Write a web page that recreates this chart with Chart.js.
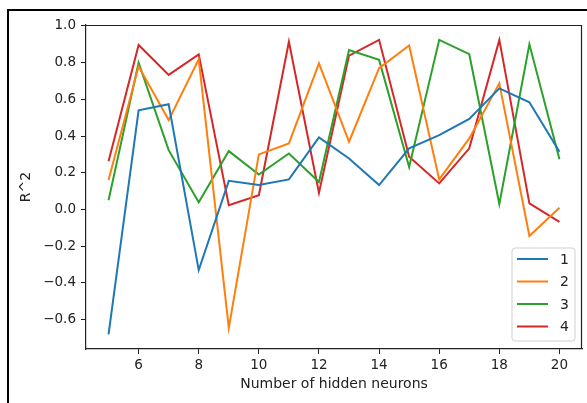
<!DOCTYPE html>
<html>
<head>
<meta charset="utf-8">
<script src="https://cdn.jsdelivr.net/npm/chart.js@4/dist/chart.umd.min.js"></script>
<style>
  html, body { margin: 0; padding: 0; background: #fff; }
  canvas { display: block; }
</style>
</head>
<body>
<canvas id="r2chart" width="587" height="403"></canvas>
<script>
// hidden neuron counts on the x axis
const neurons = [5, 6, 7, 8, 9, 10, 11, 12, 13, 14, 15, 16, 17, 18, 19, 20];

// R^2 score per run
const run1 = [-0.68, 0.54, 0.573, -0.33, 0.156, 0.133, 0.164, 0.393, 0.278, 0.133, 0.333, 0.405, 0.493, 0.66, 0.584, 0.314];
const run2 = [0.16, 0.78, 0.487, 0.818, -0.645, 0.30, 0.36, 0.796, 0.369, 0.77, 0.893, 0.164, 0.387, 0.687, -0.144, 0.009];
const run3 = [0.05, 0.80, 0.323, 0.04, 0.318, 0.19, 0.305, 0.15, 0.869, 0.815, 0.232, 0.924, 0.846, 0.03, 0.90, 0.274];
const run4 = [0.263, 0.896, 0.733, 0.845, 0.023, 0.078, 0.914, 0.09, 0.838, 0.924, 0.287, 0.142, 0.333, 0.924, 0.033, -0.068];

const runLabels = ["1", "2", "3", "4"];
const runColors = ["#1f77b4", "#ff7f0e", "#2ca02c", "#d62728"];

const xTicks = [6, 8, 10, 12, 14, 16, 18, 20];
const yTicks = [-0.6, -0.4, -0.2, 0.0, 0.2, 0.4, 0.6, 0.8, 1.0];

const ink = "#222";
const tickFont = { family: "DejaVu Sans", size: 13.5 };
const titleFont = { family: "DejaVu Sans", size: 14 };

const toPoints = (ys) => ys.map((y, i) => ({ x: neurons[i], y: y }));

// box around the axes plus the outer figure frame
const framePlugin = {
    id: "frame",
    afterDraw(chart) {
        const { ctx, chartArea: a } = chart;
        const top = Math.round(a.top) + 0.5;
        const right = Math.round(a.right) - 0.5;
        ctx.save();
        ctx.strokeStyle = ink;
        ctx.lineWidth = 1.2;
        ctx.beginPath();
        ctx.moveTo(a.left, top);
        ctx.lineTo(right, top);
        ctx.lineTo(right, a.bottom);
        ctx.stroke();

        ctx.strokeStyle = "#000";
        ctx.lineWidth = 2;
        ctx.beginPath();
        ctx.moveTo(8, chart.height);
        ctx.lineTo(8, 10);
        ctx.lineTo(chart.width, 10);
        ctx.stroke();
        ctx.restore();
    },
};

// legend box in the lower right corner of the plot
const innerLegend = {
    id: "innerLegend",
    afterDraw(chart) {
        const { ctx, chartArea: a } = chart;
        const sets = chart.data.datasets;
        const w = 63, rowH = 22.5;
        const h = sets.length * rowH + 3;
        const x = a.right - 7 - w;
        const y = a.bottom - 8 - h;
        ctx.save();
        ctx.beginPath();
        ctx.roundRect(x, y, w, h, 3);
        ctx.fillStyle = "rgba(255,255,255,0.8)";
        ctx.fill();
        ctx.strokeStyle = "#d0d0d0";
        ctx.lineWidth = 1;
        ctx.stroke();
        ctx.font = "14px 'DejaVu Sans'";
        ctx.textBaseline = "middle";
        sets.forEach((ds, i) => {
            const cy = y + 11 + i * rowH;
            ctx.strokeStyle = ds.borderColor;
            ctx.lineWidth = 2;
            ctx.beginPath();
            ctx.moveTo(x + 5, cy);
            ctx.lineTo(x + 36, cy);
            ctx.stroke();
            ctx.fillStyle = ink;
            ctx.fillText(ds.label, x + 48, cy + 1);
        });
        ctx.restore();
    },
};

const chartConfig = {
    type: "line",
    data: {
        datasets: [run1, run2, run3, run4].map((ys, i) => ({
            label: runLabels[i],
            data: toPoints(ys),
            borderColor: runColors[i],
            backgroundColor: runColors[i],
            borderWidth: 2,
            pointRadius: 0,
            tension: 0,
            fill: false,
        })),
    },
    options: {
        responsive: false,
        animation: false,
        devicePixelRatio: 1,
        layout: { padding: { top: 25, right: 5, left: 0, bottom: 0 } },
        plugins: {
            legend: { display: false },
            tooltip: { enabled: false },
        },
        scales: {
            x: {
                type: "linear",
                min: 4.25,
                max: 20.75,
                afterBuildTicks: (s) => { s.ticks = xTicks.map((v) => ({ value: v })); },
                afterFit: (s) => { s.height = 54; },
                ticks: { color: ink, font: tickFont, padding: 3, maxRotation: 0 },
                grid: { drawOnChartArea: false, drawTicks: true, tickLength: 5, color: ink },
                border: { display: true, color: ink, width: 1.2 },
                title: {
                    display: true,
                    text: "Number of hidden neurons",
                    color: ink,
                    font: titleFont,
                    padding: { top: 0, bottom: 10 },
                },
            },
            y: {
                type: "linear",
                min: -0.76,
                max: 1.005,
                afterBuildTicks: (s) => { s.ticks = yTicks.map((v) => ({ value: v })); },
                afterFit: (s) => { s.width = 86; },
                ticks: {
                    color: ink,
                    font: tickFont,
                    padding: 5,
                    callback: (v) => (v < -1e-9 ? "\u2212" : "") + Math.abs(v).toFixed(1),
                },
                grid: { drawOnChartArea: false, drawTicks: true, tickLength: 5, color: ink },
                border: { display: true, color: ink, width: 1.2 },
                title: {
                    display: true,
                    text: "R^2",
                    color: ink,
                    font: titleFont,
                    padding: { top: 18, bottom: 0 },
                },
            },
        },
    },
    plugins: [framePlugin, innerLegend],
};

new Chart(document.getElementById("r2chart"), chartConfig);
</script>
</body>
</html>
